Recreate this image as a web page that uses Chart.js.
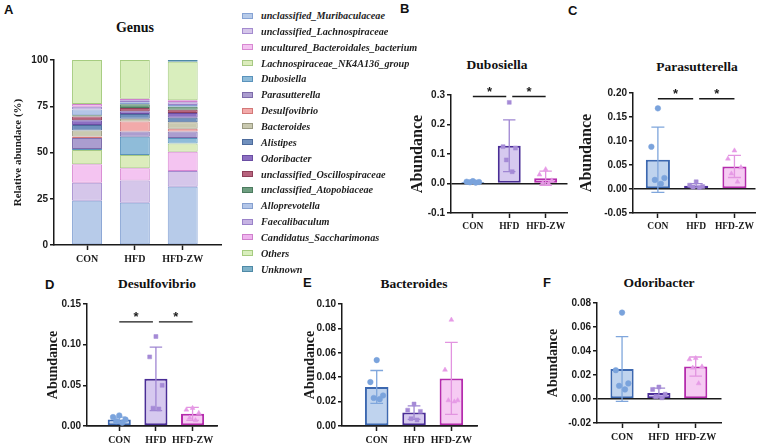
<!DOCTYPE html>
<html><head><meta charset="utf-8">
<script src="https://cdn.jsdelivr.net/npm/chart.js@4.4.1/dist/chart.umd.min.js"></script>
<style>
html,body{margin:0;padding:0;background:#fff;}
body{width:767px;height:445px;overflow:hidden;position:relative;}
canvas{position:absolute;}
.lbl{position:absolute;font:bold 13px "Liberation Sans",Arial,sans-serif;color:#111;line-height:15px;}
.ttl{position:absolute;font:bold 13.5px "Liberation Serif","Times New Roman",serif;color:#111;transform:translate(-50%,-50%);white-space:nowrap;line-height:16px;}
.li{position:absolute;left:242px;height:14px;display:flex;align-items:center;white-space:nowrap;font:italic bold 10.2px "Liberation Serif","Times New Roman",serif;color:#1e1e1e;}
.sw{width:9px;height:4px;border:1px solid;margin-right:8px;flex:none;}
</style></head><body>
<div class="lbl" style="left:4px;top:2px">A</div>
<div class="lbl" style="left:400px;top:1px">B</div>
<div class="lbl" style="left:568px;top:3px">C</div>
<div class="lbl" style="left:45px;top:277px">D</div>
<div class="lbl" style="left:303px;top:275px">E</div>
<div class="lbl" style="left:543px;top:275px">F</div>
<div class="ttl" style="left:135px;top:28px;font-size:14px">Genus</div>
<div class="ttl" style="left:497px;top:65px">Dubosiella</div>
<div class="ttl" style="left:697px;top:67px">Parasutterella</div>
<div class="ttl" style="left:157px;top:284px">Desulfovibrio</div>
<div class="ttl" style="left:414px;top:284px">Bacteroides</div>
<div class="ttl" style="left:659px;top:283px">Odoribacter</div>
<canvas id="cA"></canvas><canvas id="cB"></canvas><canvas id="cC"></canvas>
<canvas id="cD"></canvas><canvas id="cE"></canvas><canvas id="cF"></canvas>
<div id="legend"></div>
<script>
// ---------------- data ----------------
const groups = ['CON', 'HFD', 'HFD-ZW'];
const genera = ['unclassified_Muribaculaceae', 'unclassified_Lachnospiraceae', 'uncultured_Bacteroidales_bacterium',
  'Lachnospiraceae_NK4A136_group', 'Dubosiella', 'Parasutterella', 'Desulfovibrio', 'Bacteroides', 'Alistipes',
  'Odoribacter', 'unclassified_Oscillospiraceae', 'unclassified_Atopobiaceae', 'Alloprevotella', 'Faecalibaculum',
  'Candidatus_Saccharimonas', 'Others', 'Unknown'];
const abundCON = [23.9, 9.8, 9.9, 7.8, 0.5, 6.0, 0.8, 3.2, 3.0, 2.5, 2.0, 0.8, 3.0, 1.5, 1.5, 23.8, 0];
const abundHFD = [22.9, 11.9, 6.7, 7.2, 9.8, 2.8, 5.5, 1.5, 2.5, 1.5, 1.8, 2.0, 1.0, 1.2, 0.8, 20.9, 0];
const abundZW  = [31.5, 8.5, 10.4, 4.4, 3.0, 3.5, 1.5, 3.5, 2.5, 2.5, 1.8, 1.6, 1.0, 1.5, 1.0, 20.8, 1.0];
const abundTicks = [0, 25, 50, 75, 100];

const dubosiellaMean = [0.005, 0.128, 0.018];
const dubosiellaSD   = [0.003, 0.088, 0.024];
const dubosiellaCON  = [0.008, 0.006, 0.005, 0.004, 0.003];
const dubosiellaHFD  = [0.275, 0.125, 0.120, 0.080, 0.040];
const dubosiellaZW   = [0.048, 0.030, 0.010, 0.002, 0.000];

const parasutterellaMean = [0.061, 0.007, 0.047];
const parasutterellaSD   = [0.068, 0.004, 0.023];
const parasutterellaCON  = [0.168, 0.088, 0.023, 0.019, 0.011];
const parasutterellaHFD  = [0.015, 0.008, 0.005, 0.004, 0.003];
const parasutterellaZW   = [0.080, 0.063, 0.045, 0.032, 0.015];

const desulfovibrioMean = [0.008, 0.058, 0.015];
const desulfovibrioSD   = [0.003, 0.039, 0.008];
const desulfovibrioCON  = [0.013, 0.011, 0.008, 0.006, 0.004];
const desulfovibrioHFD  = [0.110, 0.085, 0.050, 0.022, 0.021];
const desulfovibrioZW   = [0.022, 0.020, 0.016, 0.010, 0.007];

const bacteroidesMean = [0.032, 0.011, 0.039];
const bacteroidesSD   = [0.0135, 0.0055, 0.0295];
const bacteroidesCON  = [0.054, 0.036, 0.025, 0.023, 0.022];
const bacteroidesHFD  = [0.018, 0.013, 0.012, 0.006, 0.005];
const bacteroidesZW   = [0.087, 0.046, 0.021, 0.021, 0.020];

const odoribacterMean = [0.025, 0.005, 0.027];
const odoribacterSD   = [0.027, 0.004, 0.008];
const odoribacterCON  = [0.072, 0.024, 0.013, 0.011, 0.008];
const odoribacterHFD  = [0.010, 0.008, 0.004, 0.002, 0.001];
const odoribacterZW   = [0.034, 0.033, 0.027, 0.026, 0.013];

// significance pairs: [groupA, groupB, level]
const dubosiellaSig = [[0, 1, 0.295], [1, 2, 0.295]];
const parasutterellaSig = [[0, 1, 0.188], [1, 2, 0.188]];
const desulfovibrioSig = [[0, 1, 0.128], [1, 2, 0.128]];

// ---------------- styles ----------------
const stackFill = ['#b7cbe9', '#d5c6ea', '#f4c4f1', '#dcecbc', '#8fbcd9', '#ab9dcf', '#f2aaaa', '#c9c9b0', '#7090bd',
  '#8d6fc2', '#b8647e', '#6e9e80', '#b3c6e8', '#c6b3e3', '#efb4ee', '#d9eebd', '#7fb2c9'];
const stackLine = ['#86a3d4', '#a48bcf', '#d888d2', '#a7c983', '#5a93bc', '#7d6baa', '#d47878', '#9a9a82', '#4d6b9c',
  '#6a4ea3', '#8f405a', '#4c7b5f', '#86a0cf', '#9a82c9', '#cf80cc', '#a6cc80', '#4f8aa7'];
const FILL = ['#bfd3ee', '#d6c9ef', '#f6cbf3'];
const LINE = ['#3c68b0', '#4a2d96', '#b52cad'];
const DOT = ['#7aa3dc', '#a58ad6', '#e69ae6'];
const ERR = ['#7fa6dc', '#9f86d2', '#e294e0'];
const MARK = ['circle', 'rect', 'triangle'];
const JITTER = [0, -0.17, 0.17, -0.08, 0.08];
const SANS = '"Liberation Sans", Arial, sans-serif';
const SERIF = '"Liberation Serif", "Times New Roman", serif';
const INK = '#1a1a1a';
const PT = 8, PR = 4, PB = 2, XH = 22;

Chart.defaults.animation = false;
Chart.defaults.responsive = false;
Chart.defaults.devicePixelRatio = 1;
Chart.defaults.plugins.legend.display = false;
Chart.defaults.plugins.tooltip.enabled = false;

function place(id, left, top, w, h) {
  const c = document.getElementById(id);
  c.width = w; c.height = h; c.style.left = left + 'px'; c.style.top = top + 'px';
  return c;
}

const errorBars = {
  id: 'errorBars',
  afterDatasetDraw(chart, args) {
    const ds = chart.data.datasets[args.index];
    if (!ds.sd) return;
    const ctx = chart.ctx, y = chart.scales.y;
    args.meta.data.forEach((el, i) => {
      const m = ds.data[i].y, s = ds.sd[i];
      const hi = y.getPixelForValue(m + s), lo = y.getPixelForValue(m - s);
      const half = el.width * 0.27;
      ctx.save();
      ctx.strokeStyle = ds.errColor[i]; ctx.lineWidth = 1.3;
      ctx.beginPath();
      ctx.moveTo(el.x, hi); ctx.lineTo(el.x, lo);
      ctx.moveTo(el.x - half, hi); ctx.lineTo(el.x + half, hi);
      ctx.moveTo(el.x - half, lo); ctx.lineTo(el.x + half, lo);
      ctx.stroke(); ctx.restore();
    });
  }
};

const sigBars = {
  id: 'sigBars',
  afterDraw(chart, args, opts) {
    const pairs = opts.pairs || [];
    const ctx = chart.ctx, x = chart.scales.x, y = chart.scales.y;
    pairs.forEach(([a, b, v]) => {
      const yy = y.getPixelForValue(v);
      const xa = x.getPixelForValue(a) + (a === 1 ? 3 : 0);
      const xb = x.getPixelForValue(b) - (b === 1 ? 3 : 0);
      ctx.save();
      ctx.strokeStyle = INK; ctx.lineWidth = 1.3;
      ctx.beginPath(); ctx.moveTo(xa, yy); ctx.lineTo(xb, yy); ctx.stroke();
      ctx.fillStyle = INK; ctx.font = 'bold 13px ' + SANS;
      ctx.textAlign = 'center'; ctx.textBaseline = 'middle';
      ctx.fillText('*', (xa + xb) / 2, yy - 4);
      ctx.restore();
    });
  }
};

function xScale(min, max, size, stacked) {
  return {
    type: 'linear', min, max, offset: false, stacked: !!stacked,
    afterBuildTicks: s => { s.ticks = groups.map((g, i) => ({ value: i })); },
    ticks: { callback: v => groups[v], autoSkip: false, maxRotation: 0, padding: 3, color: INK,
      font: { family: SERIF, weight: 'bold', size } },
    border: { display: true, color: INK, width: 1.5 },
    grid: { offset: false, color: 'rgba(0,0,0,0)', tickLength: 5, tickColor: INK, tickWidth: 1.5 },
    afterFit: s => { s.height = XH; }
  };
}

function yScale(min, max, step, dec, width, title, tsize, tpad, stacked, zeroLine) {
  return {
    type: 'linear', min, max, stacked: !!stacked,
    ticks: { stepSize: step, callback: v => Number(v).toFixed(dec), padding: 2, color: INK,
      font: { family: SANS, weight: 'bold', size: 10 } },
    border: { display: true, color: INK, width: 1.5 },
    grid: { color: c => (zeroLine && c.tick && Math.abs(c.tick.value) < 1e-9) ? INK : 'rgba(0,0,0,0)',
      lineWidth: 1.5, tickLength: 4, tickColor: INK, tickWidth: 1.5 },
    title: { display: true, text: title, color: INK, padding: { top: tpad, bottom: 0 },
      font: { family: SERIF, weight: 'bold', size: tsize, lineHeight: 1 } },
    afterFit: s => { s.width = width; }
  };
}

// ---------------- panel A: stacked genus composition ----------------
const stackRows = [abundCON, abundHFD, abundZW];
const chartA = new Chart(place('cA', 0, 52, 225, 217), {
  type: 'bar',
  data: {
    datasets: genera.map((g, k) => ({
      label: g,
      data: stackRows.map((row, i) => ({ x: i, y: row[k] })),
      backgroundColor: stackFill[k], borderColor: stackLine[k], borderWidth: 1, borderSkipped: false,
      barPercentage: 0.625, categoryPercentage: 1
    }))
  },
  options: {
    layout: { padding: { top: PT, right: PR, bottom: PB, left: 0 } },
    scales: {
      x: xScale(-0.69, 2.8, 10, true),
      y: Object.assign(yScale(0, 100, 25, 0, 54, 'Relative abundace (%)', 11, 12.5, true, false),
        { afterBuildTicks: s => { s.ticks = abundTicks.map(v => ({ value: v })); } })
    }
  }
});

// legend (built from the chart's own legend items)
const legendItems = chartA.options.plugins.legend.labels.generateLabels(chartA);
const legendBox = document.getElementById('legend');
legendItems.forEach((it, i) => {
  const row = document.createElement('div');
  row.className = 'li';
  row.style.top = (15.5 + i * 15.85 - 7) + 'px';
  const sw = document.createElement('span');
  sw.className = 'sw';
  sw.style.background = it.fillStyle; sw.style.borderColor = it.strokeStyle;
  row.appendChild(sw);
  row.appendChild(document.createTextNode(it.text));
  legendBox.appendChild(row);
});

// ---------------- panels B-F ----------------
function barPanel(id, geo, ax, means, sds, pts, pairs) {
  const scatterData = [], styles = [], fills = [];
  pts.forEach((arr, g) => arr.forEach((v, k) => {
    scatterData.push({ x: g + JITTER[k], y: v });
    styles.push(MARK[g]); fills.push(DOT[g]);
  }));
  return new Chart(place(id, geo[0], geo[1], geo[2], geo[3]), {
    data: {
      datasets: [
        { type: 'scatter', order: 0, data: scatterData, pointStyle: styles, backgroundColor: fills,
          borderColor: fills, borderWidth: 0.5, pointRadius: 2.8 },
        { type: 'bar', order: 1, data: means.map((m, i) => ({ x: i, y: m })), sd: sds, errColor: ERR,
          backgroundColor: FILL, borderColor: LINE, borderWidth: 2, borderSkipped: false,
          barPercentage: 0.63, categoryPercentage: 1 }
      ]
    },
    options: {
      layout: { padding: { top: PT, right: PR, bottom: PB, left: 0 } },
      scales: {
        x: xScale(ax.xmin, ax.xmax, ax.xs),
        y: yScale(ax.min, ax.max, ax.step, ax.dec, ax.w, 'Abundance', ax.ts, 0, false, true)
      },
      plugins: { sigBars: { pairs: pairs || [] } }
    },
    plugins: [errorBars, sigBars]
  });
}

barPanel('cB', [410, 87, 162, 150],
  { xmin: -0.6, xmax: 2.6, xs: 9.5, min: -0.1, max: 0.3, step: 0.1, dec: 1, w: 41, ts: 16 },
  dubosiellaMean, dubosiellaSD, [dubosiellaCON, dubosiellaHFD, dubosiellaZW], dubosiellaSig);

barPanel('cC', [579, 85, 181, 152],
  { xmin: -0.65, xmax: 2.55, xs: 9.5, min: -0.05, max: 0.2, step: 0.05, dec: 2, w: 54, ts: 16 },
  parasutterellaMean, parasutterellaSD, [parasutterellaCON, parasutterellaHFD, parasutterellaZW], parasutterellaSig);

barPanel('cD', [46, 296, 176, 154],
  { xmin: -0.88, xmax: 2.68, xs: 10, min: 0, max: 0.15, step: 0.05, dec: 2, w: 41, ts: 14 },
  desulfovibrioMean, desulfovibrioSD, [desulfovibrioCON, desulfovibrioHFD, desulfovibrioZW], desulfovibrioSig);

barPanel('cE', [303, 296, 179, 154],
  { xmin: -0.93, xmax: 2.7, xs: 10, min: 0, max: 0.1, step: 0.02, dec: 2, w: 39, ts: 14 },
  bacteroidesMean, bacteroidesSD, [bacteroidesCON, bacteroidesHFD, bacteroidesZW], null);

barPanel('cF', [546, 295, 180, 152],
  { xmin: -0.68, xmax: 2.7, xs: 10, min: -0.02, max: 0.08, step: 0.02, dec: 2, w: 51, ts: 14 },
  odoribacterMean, odoribacterSD, [odoribacterCON, odoribacterHFD, odoribacterZW], null);
</script>
</body></html>
